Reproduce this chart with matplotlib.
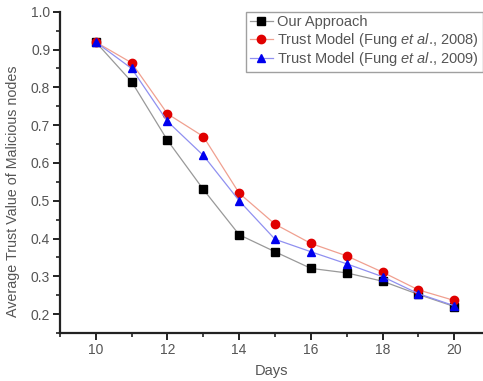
import matplotlib.pyplot as plt
from matplotlib.ticker import MultipleLocator

plt.rcParams['font.family'] = ['Liberation Sans', 'DejaVu Sans']
plt.rcParams['mathtext.fontset'] = 'custom'
plt.rcParams['mathtext.rm'] = 'Liberation Sans'
plt.rcParams['mathtext.it'] = 'Liberation Sans:italic'

days = [10, 11, 12, 13, 14, 15, 16, 17, 18, 19, 20]
ours = [0.92, 0.815, 0.66, 0.53, 0.41, 0.365, 0.321, 0.309, 0.287, 0.252, 0.22]
fung2008 = [0.92, 0.865, 0.73, 0.67, 0.52, 0.438, 0.387, 0.354, 0.311, 0.264, 0.236]
fung2009 = [0.92, 0.85, 0.71, 0.62, 0.50, 0.398, 0.365, 0.333, 0.299, 0.254, 0.222]

txt = '#555555'

fig = plt.figure(figsize=(4.83, 3.81), dpi=100)
ax = fig.add_axes([0.124, 0.126, 0.876, 0.843])

ax.plot(days, ours, color='#999999', lw=0.9, marker='s', ms=5.5,
        mfc='black', mec='black', label='Our Approach')
ax.plot(days, fung2008, color='#f0a090', lw=0.9, marker='o', ms=6,
        mfc='#e00000', mec='#e00000', label='Trust Model (Fung $\\it{et\\ al}$., 2008)')
ax.plot(days, fung2009, color='#9090f0', lw=0.9, marker='^', ms=6,
        mfc='#0000ee', mec='#0000ee', label='Trust Model (Fung $\\it{et\\ al}$., 2009)')

ax.set_xlim(9, 20.8)
ax.set_ylim(0.15, 1.0)
ax.xaxis.set_major_locator(MultipleLocator(2))
ax.xaxis.set_minor_locator(MultipleLocator(1))
ax.yaxis.set_minor_locator(MultipleLocator(0.05))
ax.set_yticks([0.2, 0.3, 0.4, 0.5, 0.6, 0.7, 0.8, 0.9, 1.0])
ax.set_yticklabels(['0.2', '0.3', '0.4', '0.5', '0.6', '0.7', '0.8', '0.9', '1.0'])

for s in ['top', 'right']:
    ax.spines[s].set_visible(False)
for s in ['left', 'bottom']:
    ax.spines[s].set_linewidth(1.6)
    ax.spines[s].set_color('#222222')

ax.tick_params(which='major', length=5, width=1.4, color='#222222',
               labelsize=10, labelcolor=txt, pad=2)
ax.tick_params(which='minor', length=3, width=1.2, color='#222222')

ax.set_xlabel('Days', fontsize=10.5, color=txt, labelpad=5)
ax.set_ylabel('Average Trust Value of Malicious nodes', fontsize=10.3, color=txt)
ax.yaxis.set_label_coords(-0.095, 0.44)

leg = ax.legend(loc='upper right', bbox_to_anchor=(1.0, 1.0), fontsize=10.5,
                frameon=True, fancybox=False, handlelength=1.6,
                handletextpad=0.3, borderpad=0.25, labelspacing=0.1,
                borderaxespad=0.0)
leg.get_frame().set_edgecolor('#888888')
leg.get_frame().set_linewidth(1.0)
for t in leg.get_texts():
    t.set_color(txt)

fig.savefig('out.png', dpi=100)
